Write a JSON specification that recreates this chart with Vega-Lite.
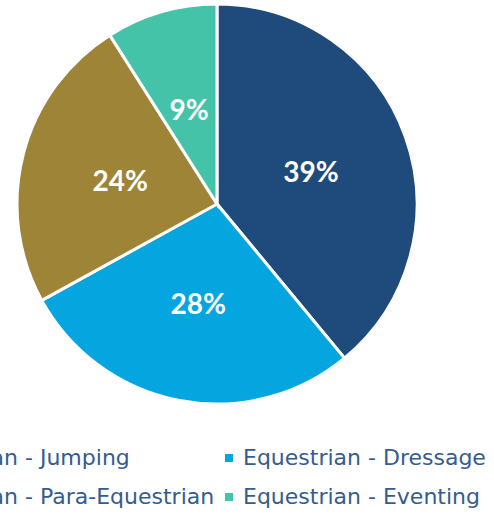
{
  "$schema": "https://vega.github.io/schema/vega-lite/v6.json",
  "width": 494,
  "height": 515,
  "autosize": {"type": "none"},
  "padding": 0,
  "background": "white",
  "view": {"stroke": null},
  "data": {
    "values": [
      {"category": "Equestrian - Jumping", "value": 39, "label": "39%", "order": 1},
      {"category": "Equestrian - Dressage", "value": 28, "label": "28%", "order": 2},
      {"category": "Equestrian - Para-Equestrian", "value": 24, "label": "24%", "order": 3},
      {"category": "Equestrian - Eventing", "value": 9, "label": "9%", "order": 4}
    ]
  },
  "encoding": {
    "theta": {"field": "value", "type": "quantitative", "stack": true},
    "order": {"field": "order", "type": "quantitative"}
  },
  "layer": [
    {
      "mark": {"type": "arc", "outerRadius": 200, "stroke": "white", "strokeWidth": 3, "x": 217, "y": 204},
      "encoding": {
        "color": {
          "field": "category",
          "type": "nominal",
          "scale": {
            "domain": ["Equestrian - Jumping", "Equestrian - Para-Equestrian", "Equestrian - Dressage", "Equestrian - Eventing"],
            "range": ["#1F4A7C", "#9E8437", "#05A6E0", "#44C3A9"]
          },
          "legend": {
            "title": null,
            "orient": "none",
            "legendX": -125,
            "legendY": 447,
            "columns": 2,
            "symbolType": "square",
            "symbolSize": 64,
            "symbolStrokeWidth": 0,
            "labelFont": "DejaVu Sans",
            "labelFontSize": 22,
            "labelColor": "#355C8E",
            "labelOffset": 3,
            "labelLimit": 400,
            "rowPadding": 17,
            "columnPadding": 3,
            "padding": 0
          }
        }
      }
    },
    {
      "mark": {"type": "text", "radius": 100, "x": 217, "y": 204, "dy": 4, "font": "Lato", "fontWeight": "bold", "fontSize": 28, "baseline": "middle", "align": "center"},
      "encoding": {
        "text": {"field": "label"},
        "color": {"value": "white"}
      }
    }
  ]
}
